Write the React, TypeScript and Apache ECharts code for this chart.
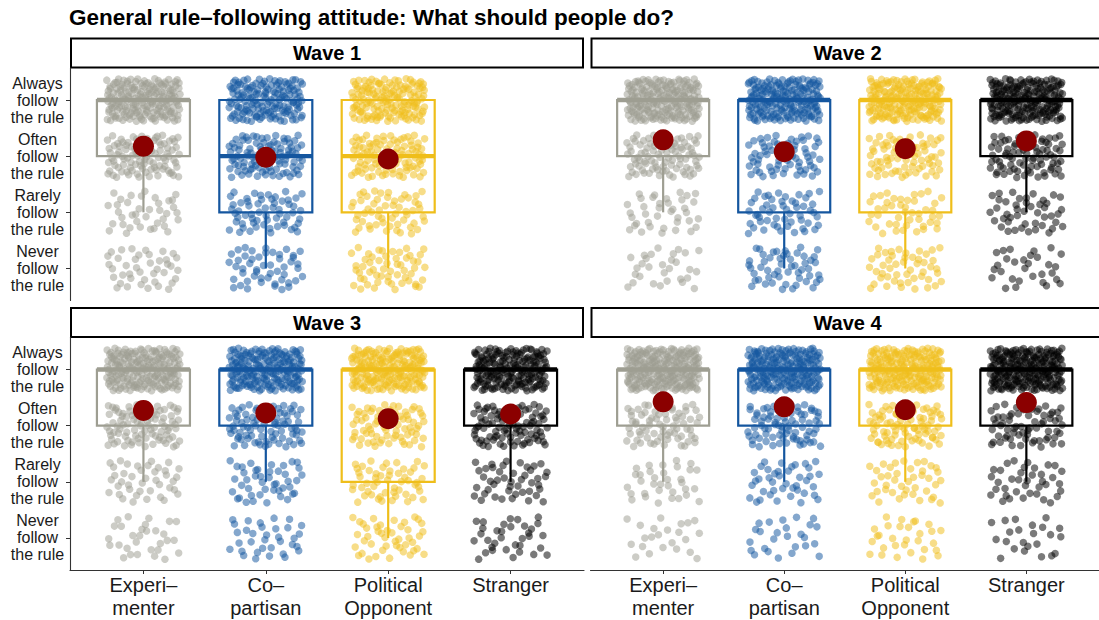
import React, { useEffect, useRef } from "react";
import * as echarts from "echarts";

// ---------- data ----------
const TITLE = "General rule–following attitude: What should people do?";
const WAVES = ["Wave 1", "Wave 2", "Wave 3", "Wave 4"];
const CATEGORIES = ["Experi–\nmenter", "Co–\npartisan", "Political\nOpponent", "Stranger"];
const LEVEL_LABELS = [
  "Never\nfollow\nthe rule",
  "Rarely\nfollow\nthe rule",
  "Often\nfollow\nthe rule",
  "Always\nfollow\nthe rule",
];
// response counts per group: [Never, Rarely, Often, Always]
const WAVE1_COUNTS = [[41, 38, 98, 184], [50, 60, 98, 153], [56, 56, 98, 150], null];
const WAVE2_COUNTS = [[30, 38, 90, 203], [53, 53, 68, 188], [49, 45, 75, 191], [30, 45, 83, 203]];
const WAVE3_COUNTS = [[30, 41, 90, 199], [34, 45, 86, 195], [45, 53, 75, 188], [34, 45, 94, 188]];
const WAVE4_COUNTS = [[23, 34, 71, 233], [26, 41, 79, 214], [30, 41, 86, 203], [23, 38, 68, 233]];
const ALL_COUNTS = [WAVE1_COUNTS, WAVE2_COUNTS, WAVE3_COUNTS, WAVE4_COUNTS];

// ---------- style ----------
const COLORS = ["#9E9E92", "#14569F", "#EFBE1A", "#000000"];
const MEAN_COLOR = "#8B0000";
const FONT = '"Liberation Sans", Arial, Helvetica, sans-serif';
const GRIDS = [
  { left: 70, top: 68, width: 514, height: 232.5 },
  { left: 590.5, top: 68, width: 514, height: 232.5 },
  { left: 70, top: 337.5, width: 514, height: 232.5 },
  { left: 590.5, top: 337.5, width: 514, height: 232.5 },
];
const JITTER_W = 0.3;
const JITTER_H = 0.38;
const BOX_HALF = 0.38;

// Halton low-discrepancy sequence used as deterministic jitter layout
function halton(i: number, b: number) {
  let f = 1, r = 0;
  while (i > 0) {
    f /= b;
    r += f * (i % b);
    i = Math.floor(i / b);
  }
  return r;
}

function expand(counts: number[]) {
  const v: number[] = [];
  counts.forEach((n, li) => { for (let k = 0; k < n; k++) v.push(li + 1); });
  return v;
}
function quantile(sorted: number[], p: number) {
  const h = (sorted.length - 1) * p;
  const lo = Math.floor(h), hi = Math.ceil(h);
  return sorted[lo] + (h - lo) * (sorted[hi] - sorted[lo]);
}
function boxStats(counts: number[]) {
  const v = expand(counts);
  const q1 = quantile(v, 0.25), med = quantile(v, 0.5), q3 = quantile(v, 0.75);
  const iqr = q3 - q1;
  const lw = Math.min(...v.filter((x) => x >= q1 - 1.5 * iqr));
  const uw = Math.max(...v.filter((x) => x <= q3 + 1.5 * iqr));
  const mean = v.reduce((a, b) => a + b, 0) / v.length;
  return { q1, med, q3, lw, uw, mean };
}

export default function App() {
  const ref = useRef<HTMLDivElement>(null);
  useEffect(() => {
    if (!ref.current) return;
    const chart = echarts.init(ref.current, null, { renderer: "svg" });
    const series: any[] = [];
    const graphic: any[] = [];

    ALL_COUNTS.forEach((waveCounts, w) => {
      const boxes: any[] = [];
      const means: any[] = [];
      waveCounts.forEach((counts, c) => {
        if (!counts) return;
        const pts: number[][] = [];
        counts.forEach((n, li) => {
          const offset = w * 4001 + c * 997 + li * 131 + 7;
          for (let i = 0; i < n; i++) {
            const jx = (halton(offset + i, 2) - 0.5) * 2 * JITTER_W;
            const jy = (halton(offset + i, 3) - 0.5) * 2 * JITTER_H;
            pts.push([c + 1 + jx, li + 1 + jy]);
          }
        });
        series.push({
          type: "scatter",
          xAxisIndex: w,
          yAxisIndex: w,
          symbol: "circle",
          symbolSize: 7.5,
          silent: true,
          z: 2,
          itemStyle: { color: COLORS[c], opacity: 0.52 },
          data: pts,
        });
        const s = boxStats(counts);
        boxes.push([c + 1, s.lw, s.q1, s.med, s.q3, s.uw, c]);
        means.push([c + 1, s.mean]);
      });
      series.push({
        type: "custom",
        xAxisIndex: w,
        yAxisIndex: w,
        z: 3,
        silent: true,
        clip: false,
        data: boxes,
        encode: { x: 0, y: [1, 2, 3, 4, 5] },
        renderItem: (params: any, api: any) => {
          const x = api.value(0);
          const lw = api.value(1), q1 = api.value(2), med = api.value(3), q3 = api.value(4), uw = api.value(5);
          const color = COLORS[api.value(6)];
          const tl = api.coord([x - BOX_HALF, q3]);
          const br = api.coord([x + BOX_HALF, q1]);
          const mL = api.coord([x - BOX_HALF, med]);
          const mR = api.coord([x + BOX_HALF, med]);
          const lwP = api.coord([x, lw]);
          const q1P = api.coord([x, q1]);
          const uwP = api.coord([x, uw]);
          const q3P = api.coord([x, q3]);
          const stroke = { stroke: color, lineWidth: 2.2, fill: null };
          return {
            type: "group",
            children: [
              { type: "line", shape: { x1: q1P[0], y1: q1P[1], x2: lwP[0], y2: lwP[1] }, style: stroke },
              { type: "line", shape: { x1: q3P[0], y1: q3P[1], x2: uwP[0], y2: uwP[1] }, style: stroke },
              {
                type: "rect",
                shape: { x: tl[0], y: tl[1], width: br[0] - tl[0], height: br[1] - tl[1] },
                style: { stroke: color, lineWidth: 2.2, fill: "none" },
              },
              { type: "line", shape: { x1: mL[0], y1: mL[1], x2: mR[0], y2: mR[1] }, style: { stroke: color, lineWidth: 4.4 } },
            ],
          };
        },
      });
      series.push({
        type: "scatter",
        xAxisIndex: w,
        yAxisIndex: w,
        symbol: "circle",
        symbolSize: 21,
        silent: true,
        z: 4,
        itemStyle: { color: MEAN_COLOR, opacity: 1 },
        data: means,
      });

      const g = GRIDS[w];
      graphic.push({
        type: "rect",
        shape: { x: g.left + 1, y: g.top - 29.5, width: w % 2 === 1 ? g.width + 20 : g.width - 2, height: 29 },
        style: { fill: "#ffffff", stroke: "#000000", lineWidth: 2 },
        silent: true,
      });
      graphic.push({
        type: "text",
        x: g.left + g.width / 2,
        y: g.top - 15,
        silent: true,
        style: {
          text: WAVES[w],
          font: `bold 20px ${FONT}`,
          fill: "#000",
          align: "center",
          verticalAlign: "middle",
          textAlign: "center",
          textVerticalAlign: "middle",
        },
      });
    });

    const xAxis = GRIDS.map((_, i) => {
      const bottom = i >= 2;
      return {
        type: "value",
        gridIndex: i,
        min: 0.4,
        max: 4.6,
        splitLine: { show: false },
        axisLine: { show: bottom, lineStyle: { color: "#333333", width: 1.1 } },
        axisTick: { show: bottom, customValues: [1, 2, 3, 4], length: 4, lineStyle: { color: "#333333" } },
        axisLabel: {
          show: bottom,
          customValues: [1, 2, 3, 4],
          formatter: (v: number) => CATEGORIES[Math.round(v) - 1],
          fontSize: 20,
          lineHeight: 23,
          margin: 3,
          color: "#1a1a1a",
          fontFamily: FONT,
        },
      };
    });
    const yAxis = GRIDS.map((_, i) => {
      const left = i % 2 === 0;
      return {
        type: "value",
        gridIndex: i,
        min: 0.43,
        max: 4.57,
        splitLine: { show: false },
        axisLine: { show: left, lineStyle: { color: "#333333", width: 1.1 } },
        axisTick: { show: left, customValues: [1, 2, 3, 4], length: 4, lineStyle: { color: "#333333" } },
        axisLabel: {
          show: left,
          customValues: [1, 2, 3, 4],
          formatter: (v: number) => LEVEL_LABELS[Math.round(v) - 1],
          fontSize: 16,
          lineHeight: 17,
          align: "center",
          margin: 32.5,
          color: "#1a1a1a",
          fontFamily: FONT,
        },
      };
    });

    chart.setOption({
      animation: false,
      backgroundColor: "#ffffff",
      title: {
        text: TITLE,
        left: 69,
        top: 6,
        padding: 0,
        textStyle: { fontSize: 22.5, fontWeight: "bold", color: "#000", fontFamily: FONT },
      },
      grid: GRIDS.map((g) => ({ ...g, containLabel: false })),
      xAxis,
      yAxis,
      series,
      graphic,
    });
    return () => chart.dispose();
  }, []);
  return (
    <div
      ref={ref}
      style={{ position: "absolute", left: 0, top: 0, width: 1099, height: 620, background: "#fff" }}
    />
  );
}
